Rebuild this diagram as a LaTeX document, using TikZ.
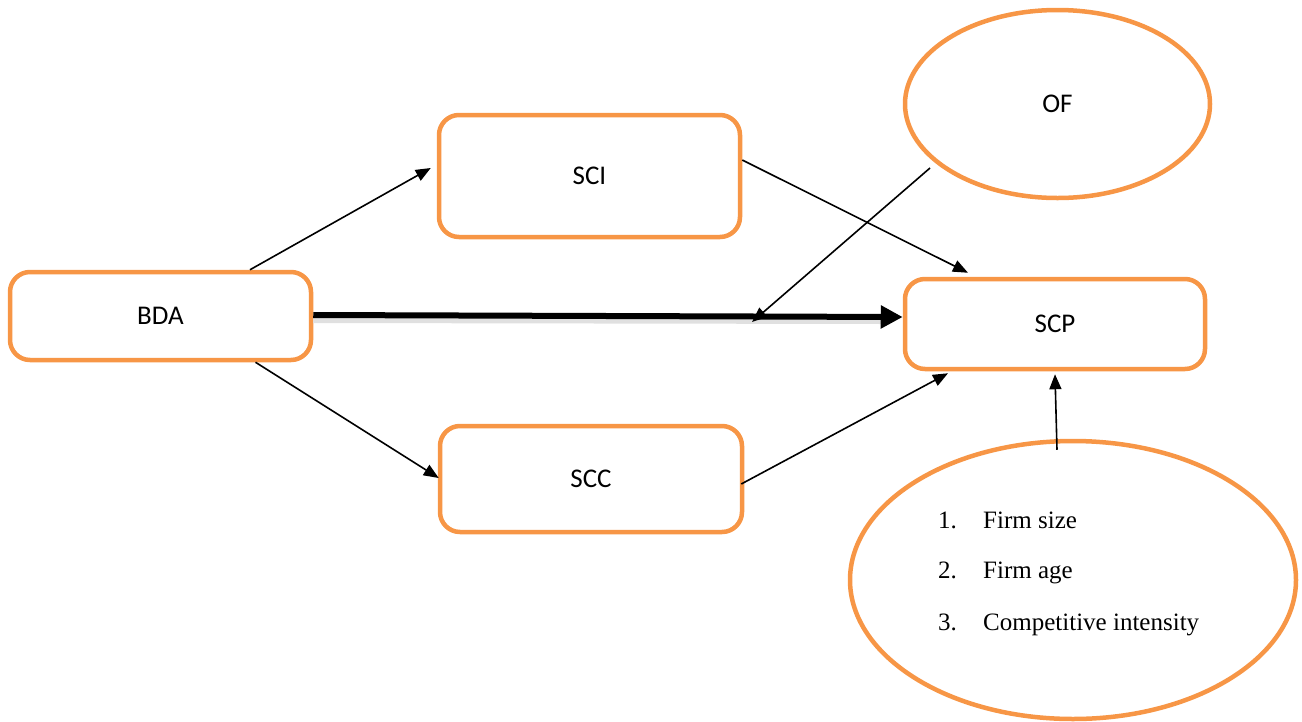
\documentclass[tikz,border=0pt]{standalone}
\usepackage{fontspec}
\setmainfont{Liberation Serif}
\newfontfamily\calib{Carlito}
\usetikzlibrary{arrows.meta,shapes.geometric}
\definecolor{orng}{HTML}{F79646}
\tikzset{
  rbox/.style={draw=orng, line width=4.5pt, rounded corners=20pt, inner sep=0pt, fill=white,
    font=\calib\fontsize{27}{32}\selectfont},
  oval/.style={draw=orng, line width=4.5pt, ellipse, inner sep=0pt, fill=white,
    font=\calib\fontsize{27}{32}\selectfont},
  conn/.style={line width=1.6pt, -{Triangle[length=15pt,width=12pt]}},
  thickconn/.style={line width=6pt, -{Triangle[length=22pt,width=22pt]}},
  listtxt/.style={anchor=base west, inner sep=0pt, font=\fontsize{25}{30}\selectfont}
}
\begin{document}
\begin{tikzpicture}[x=1pt,y=-1pt]
\useasboundingbox (0,0) rectangle (1302,721);
% nodes
\node[rbox, minimum width=301pt, minimum height=88pt] (bda) at (160.5,316) {BDA};
\node[rbox, minimum width=301pt, minimum height=122pt] (sci) at (589.5,176) {SCI};
\node[rbox, minimum width=302pt, minimum height=106pt] (scc) at (591,479) {SCC};
\node[rbox, minimum width=300pt, minimum height=90pt] (scp) at (1055,324) {SCP};
\node[oval, minimum width=305pt, minimum height=188pt] (of) at (1057.5,104) {OF};
\node[oval, minimum width=446pt, minimum height=278pt] (ctrl) at (1073,580) {};
\node[listtxt] (n1) at (938,528) {1.};
\node[listtxt] (t1) at (983,528) {Firm size};
\node[listtxt] (n2) at (938,578) {2.};
\node[listtxt] (t2) at (983,578) {Firm age};
\node[listtxt] (n3) at (938,630) {3.};
\node[listtxt] (t3) at (983,630) {Competitive intensity};
\coordinate (ofend) at (752,322);
% connectors
\draw[conn] ([xshift=89.5pt]bda.north) -- ([xshift=-6pt,yshift=8pt]sci.west);
\draw[conn] ([xshift=95pt]bda.south) -- ([xshift=1pt,yshift=1pt]scc.west);
\draw[conn] ([yshift=16pt]sci.east) -- ([xshift=-87pt,yshift=4pt]scp.north);
\draw[conn] ([xshift=-3pt,yshift=-5pt]scc.east) -- ([xshift=-107pt,yshift=-2pt]scp.south);
\draw[line width=6pt, black!12] ([yshift=-4pt]bda.east) -- ([xshift=-20pt,yshift=3pt]scp.west);
\draw[thickconn] ([yshift=1pt]bda.east) -- ([yshift=7pt]scp.west);
\draw[conn] ([xshift=-127.5pt,yshift=-64pt]of.center) -- (ofend);
\draw[conn] ([xshift=-16pt,yshift=-11pt]ctrl.north) -- ([yshift=-3pt]scp.south);
\end{tikzpicture}
\end{document}
